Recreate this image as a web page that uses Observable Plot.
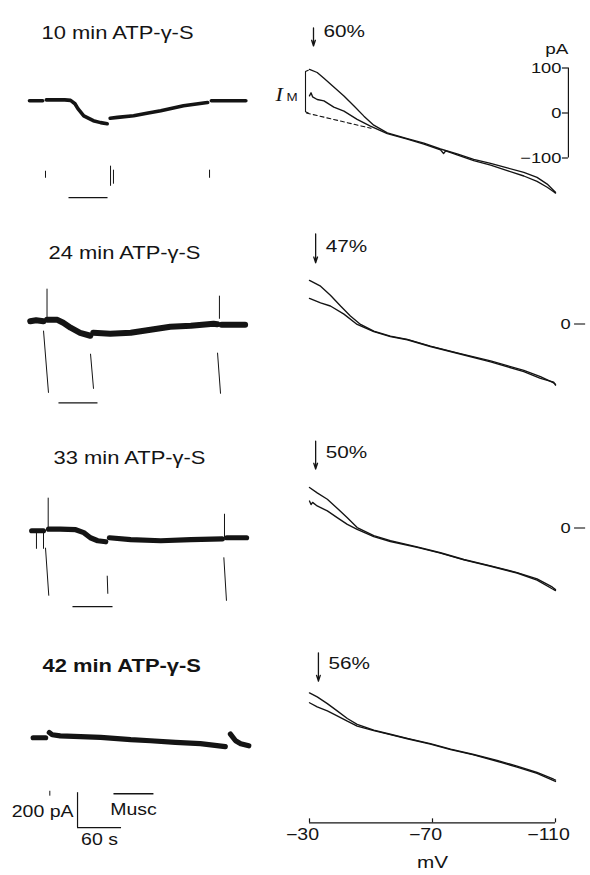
<!DOCTYPE html>
<html><head><meta charset="utf-8">
<script src="https://cdn.jsdelivr.net/npm/d3@7"></script>
<script src="https://cdn.jsdelivr.net/npm/@observablehq/plot@0.6"></script>
<style>
html,body{margin:0;padding:0;background:#fff;}
#fig{position:relative;width:590px;height:875px;overflow:hidden;background:#fff;}
#fig svg{position:absolute;overflow:visible;}
</style></head><body><div id="fig"></div>
<script>
// ================= DATA =================
const titles = ["10 min ATP-γ-S", "24 min ATP-γ-S", "33 min ATP-γ-S", "42 min ATP-γ-S"];
const percents = ["60%", "47%", "50%", "56%"];
const mvTicks = [-30, -70, -110];
const paTicks = [100, 0, -100];
const scaleLabels = ["200 pA", "60 s", "Musc"];
const scaleBarPA = 200, scaleBarS = 60;

// Left: membrane current traces, segments of [time s, current pA]
const trace1 = [
  [[0,0],[18,0]],
  [[23,5],[35,6],[48,5],[56,2],[62,-17],[66,-45],[74,-86],[87,-114],[97,-125],[106,-131]],
  [[110,-100],[120,-95],[142,-86],[160,-72],[179,-57],[210,-29],[240,-11],[243,-10]],
  [[248,0],[295,0]]
];
const trace2 = [
  [[1,3],[9,9],[19,3]],
  [[24,11],[38,11],[46,-6],[56,-34],[69,-63],[83,-80]],
  [[87,-63],[110,-69],[138,-63],[165,-46],[192,-29],[220,-23],[251,-11],[256,-14]],
  [[262,-17],[294,-17]]
];
const trace3 = [
  [[3,0],[19,0]],
  [[26,9],[42,9],[63,6],[74,-11],[83,-40],[93,-57],[104,-63]],
  [[109,-40],[138,-51],[179,-57],[220,-51],[263,-46]],
  [[269,-40],[296,-40]]
];
const trace4 = [
  [[5,0],[22,0]],
  [[27,30],[31,17],[42,11],[97,2],[138,-11],[165,-17],[199,-26],[233,-34],[267,-51]],
  [[274,21],[281,-17],[288,-34],[299,-46]]
];
const traces = [trace1, trace2, trace3, trace4];

// stimulus artefacts [t1, i1, t2, i2]
const artefacts = [
  [[21.8,-400,21.8,-440],[110.5,-371,110.5,-486],[114.5,-394,114.5,-474],[245.5,-394,245.5,-440]],
  [[23.9,189,23.9,17],[19.1,-51,25.9,-406],[83.2,-183,87.3,-383],[259,149,259,17],[256.4,-177,260.5,-411]],
  [[9.5,0,9.5,-103],[19.1,0,19.1,-103],[25.5,189,25.5,11],[21.8,-97,26.3,-371],[106,-257,106.8,-360],[265.9,97,265.9,-40],[265,-152,268.6,-400]],
  [[27.7,-303,27.7,-331]]
];
// muscarine application [t start, t end, level pA]
const musc = [[53.2,106.4,-554],[39.5,92.7,-463],[58.6,113.2,-434],[114.5,169,-320]];
// title anchors [t, pA]
const titleAt = [[16.4,383],[25.9,394],[32.7,417],[17.7,411]];
// scale bar origin [t, pA]
const scaleBarAt = [65.5, -514];

// Right: I-V ramps [mV, pA]; series a (upper at -30) and b
const iv1a = [[-30,97],[-32.5,90],[-34.7,77],[-37.9,58],[-41.2,38],[-44.4,16],[-47.7,-7],[-50.9,-27],[-55.3,-44],[-61.8,-57],[-67.2,-67],[-72.6,-80],[-78,-91],[-83.4,-103],[-88.9,-112],[-94.3,-122],[-99.7,-132],[-104,-143],[-107.3,-158],[-109.4,-172],[-110,-176]];
const iv1b = [[-30,38],[-30.5,45],[-31,36],[-32.5,30],[-34.7,27],[-37.9,13],[-41.2,4],[-45.5,-14],[-49.8,-29],[-55.3,-46],[-61.8,-58],[-67.2,-69],[-72.6,-82],[-73.6,-90],[-74.3,-84],[-78,-93],[-83.4,-106],[-88.9,-116],[-94.3,-128],[-99.7,-140],[-104,-152],[-107.3,-165],[-109.4,-175],[-110,-178]];
const iv2a = [[-30,97],[-33.6,84],[-36.8,64],[-40.1,40],[-43.3,18],[-46.6,-1],[-50.9,-16],[-56.3,-27],[-61.8,-34],[-69.3,-49],[-78,-64],[-88.9,-82],[-99.7,-103],[-105.1,-117],[-109.4,-131],[-110,-134]];
const iv2b = [[-30,57],[-33.6,47],[-36.8,40],[-41.2,22],[-45.5,-1],[-50.9,-17],[-56.3,-28],[-61.8,-35],[-69.3,-50],[-78,-65],[-88.9,-84],[-99.7,-106],[-105.1,-121],[-109.4,-129],[-110,-136]];
const iv3a = [[-30,90],[-32.5,78],[-35.8,64],[-39,44],[-42.3,23],[-45.5,1],[-50.9,-17],[-56.3,-28],[-65,-42],[-72.6,-55],[-80.2,-70],[-88.9,-84],[-97.5,-99],[-104,-113],[-108.9,-131],[-110,-137]];
const iv3b = [[-30,60],[-30.5,52],[-31,57],[-32.5,49],[-35.8,38],[-39,23],[-42.3,8],[-45.5,-3],[-50.9,-19],[-56.3,-30],[-65,-43],[-72.6,-56],[-80.2,-71],[-88.9,-85],[-97.5,-100],[-104,-116],[-108.9,-135],[-110,-139]];
const iv4a = [[-30,107],[-32.5,98],[-35.8,83],[-39,67],[-42.3,50],[-45.5,37],[-50.9,24],[-56.3,15],[-61.8,6],[-69.3,-6],[-75.9,-18],[-83.4,-30],[-91,-43],[-97.5,-56],[-104,-70],[-109.4,-85],[-110,-87]];
const iv4b = [[-30,85],[-32.5,76],[-35.8,67],[-39,56],[-42.3,44],[-45.5,33],[-50.9,23],[-56.3,14],[-61.8,5],[-69.3,-7],[-75.9,-19],[-83.4,-31],[-91,-45],[-97.5,-58],[-104,-72],[-109.4,-88],[-110,-90]];
const ivCurves = [[iv1a, iv1b], [iv2a, iv2b], [iv3a, iv3b], [iv4a, iv4b]];
// leak line (dashed) and I_M bracket in first panel [mV, pA]
const leak = [[-29,0],[-50,-34]];
const imBracket = [[-29.6,95],[-28.7,92],[-28.7,3],[-29.6,0]];
// arrows: mV, top pA, bottom pA, label pA
const arrows = [[-31.3,189,149,180],[-32,200,136,173],[-32,193,131,167],[-32.9,196,133,173]];
const axisLevel = -182;      // pA level of the mV axis line in the last panel
const yAxisAt = -114.2;      // mV position of the pA scale in the first panel

// ================= LAYOUT =================
const fig = document.getElementById("fig");
const font = "Liberation Sans, Arial, Helvetica, sans-serif";
const ink = "#141414";
const STRETCH = 1.22;
const leftZero = [100, 321, 530, 737];
const rightZero = [112, 323, 527, 740];
const traceWidth = [3.6, 6, 5.2, 5.2];

function place(svg, left, top) {
  svg.style.left = left + "px";
  svg.style.top = top + "px";
  svg.querySelectorAll("text").forEach(t => {
    const tr = t.getAttribute("transform") || "";
    t.setAttribute("transform", tr + ` scale(${STRETCH},1)`);
  });
  fig.appendChild(svg);
}
const baseStyle = {background: "transparent", overflow: "visible", fontFamily: font, position: "absolute"};

// ---- left column ----
const LTOP = 550, LBOT = -700, LK = 0.175;
for (let k = 0; k < 4; k++) {
  const pts = traces[k].flatMap((seg, s) => seg.map(([t, i]) => ({s, t, i})));
  const arts = artefacts[k].map(([t1, i1, t2, i2]) => ({t1, i1, t2, i2}));
  const m = musc[k];
  const marks = [
    Plot.line(pts, {x: "t", y: "i", z: "s", stroke: ink, strokeWidth: traceWidth[k], strokeLinejoin: "round"}),
    Plot.link(arts, {x1: "t1", y1: "i1", x2: "t2", y2: "i2", stroke: ink, strokeWidth: 1}),
    Plot.link([m], {x1: d => d[0], x2: d => d[1], y1: d => d[2], y2: d => d[2], stroke: ink, strokeWidth: 1.3}),
    Plot.text([{label: titles[k], t: titleAt[k][0], i: titleAt[k][1]}], {
      x: "t", y: "i", text: "label", textAnchor: "start", lineAnchor: "middle",
      fontSize: 18, fontWeight: k === 3 ? "bold" : "normal", fill: ink})
  ];
  if (k === 3) {
    const sb = [{t: scaleBarAt[0], i: scaleBarAt[1]}];
    marks.push(
      Plot.ruleX(sb, {x: "t", y1: "i", y2: d => d.i + scaleBarPA, stroke: ink, strokeWidth: 1.2}),
      Plot.ruleY(sb, {y: "i", x1: "t", x2: d => d.t + scaleBarS, stroke: ink, strokeWidth: 1.2}),
      Plot.text(sb, {x: "t", y: d => d.i + scaleBarPA / 2, text: () => scaleLabels[0], textAnchor: "end", dx: -4, dy: 2, lineAnchor: "middle", fontSize: 16, fill: ink}),
      Plot.text(sb, {x: d => d.t + scaleBarS / 2, y: "i", text: () => scaleLabels[1], dy: 12, lineAnchor: "middle", fontSize: 16, fill: ink}),
      Plot.text([m], {x: d => (d[0] + d[1]) / 2, y: d => d[2], text: () => scaleLabels[2], dy: 16, lineAnchor: "middle", fontSize: 16, fill: ink})
    );
  }
  const svg = Plot.plot({
    width: 260, height: (LTOP - LBOT) * LK,
    marginLeft: 29, marginRight: 11, marginTop: 0, marginBottom: 0,
    x: {domain: [0, 300], axis: null},
    y: {domain: [LBOT, LTOP], axis: null},
    style: baseStyle,
    marks
  });
  place(svg, 0, leftZero[k] - LTOP * LK);
}

// ---- right column ----
const RK = 0.45, RTOP = 250;
for (let k = 0; k < 4; k++) {
  const last = k === 3;
  const rBot = last ? axisLevel : -250;
  const plotH = (RTOP - rBot) * RK;
  const curves = ivCurves[k].flatMap((ser, s) => ser.map(([v, i]) => ({s, v, i})));
  const a = arrows[k];
  const marks = [
    Plot.line(curves, {x: "v", y: "i", z: "s", stroke: ink, strokeWidth: 1.35, strokeLinejoin: "round"}),
    Plot.arrow([a], {x1: d => d[0], x2: d => d[0], y1: d => d[1], y2: d => d[2], stroke: ink, strokeWidth: 1.3, headLength: 7, headAngle: 36}),
    Plot.text([a], {x: d => d[0], y: d => d[3], text: () => percents[k], dx: 10, textAnchor: "start", lineAnchor: "middle", fontSize: 17, fill: ink})
  ];
  if (k === 0) {
    marks.push(
      Plot.line(leak, {x: d => d[0], y: d => d[1], stroke: ink, strokeWidth: 1.1, strokeDasharray: "4,3"}),
      Plot.line(imBracket, {x: d => d[0], y: d => d[1], stroke: ink, strokeWidth: 1.1}),
      Plot.text([imBracket[1]], {x: d => d[0], y: 27, text: () => "I", dx: -30, textAnchor: "start", lineAnchor: "bottom", fontSize: 18, fontStyle: "italic", fontFamily: "Liberation Serif, Times New Roman, serif", fill: ink}),
      Plot.text([imBracket[1]], {x: d => d[0], y: 27, text: () => "M", dx: -19, textAnchor: "start", lineAnchor: "bottom", fontSize: 11, fill: ink}),
      Plot.ruleX([yAxisAt], {x: d => d, y1: paTicks[2], y2: paTicks[0], stroke: ink, strokeWidth: 1.2}),
      Plot.ruleY(paTicks, {y: d => d, x1: yAxisAt + 1.95, x2: yAxisAt, stroke: ink, strokeWidth: 1.2}),
      Plot.text(paTicks, {x: yAxisAt + 1.95, y: d => d, text: d => (d < 0 ? "−" : "") + Math.abs(d), textAnchor: "end", dx: -1, lineAnchor: "middle", fontSize: 15, fill: ink}),
      Plot.text(["pA"], {x: yAxisAt, y: 142, text: d => d, textAnchor: "end", lineAnchor: "middle", fontSize: 15.5, fill: ink})
    );
  }
  if (k === 1 || k === 2) {
    marks.push(
      Plot.ruleY([0], {y: d => d, x1: yAxisAt - 2, x2: yAxisAt - 5.6, stroke: ink, strokeWidth: 1.1}),
      Plot.text([0], {x: yAxisAt - 0.7, y: d => d, text: d => String(d), textAnchor: "end", lineAnchor: "middle", fontSize: 15, fill: ink})
    );
  }
  if (last) {
    marks.push(
      Plot.ruleY([axisLevel], {y: d => d, x1: mvTicks[0], x2: mvTicks[mvTicks.length - 1], stroke: ink, strokeWidth: 1.2}),
      Plot.ruleX(mvTicks, {x: d => d, y1: axisLevel, y2: axisLevel + 9, stroke: ink, strokeWidth: 1.2}),
      Plot.axisX({ticks: mvTicks, tickSize: 0, tickPadding: 6, dx: -7, tickFormat: d => "−" + Math.abs(d), fontSize: 16, label: null, fill: ink}),
      Plot.text(["mV"], {frameAnchor: "bottom", text: d => d, dy: 40, lineAnchor: "middle", fontSize: 17, fill: ink})
    );
  }
  const svg = Plot.plot({
    width: 330, height: plotH + (last ? 50 : 0),
    marginLeft: 49, marginRight: 35, marginTop: 0, marginBottom: last ? 50 : 0,
    x: {domain: [-30, -110], axis: null},
    y: {domain: [rBot, RTOP], axis: null},
    style: baseStyle,
    marks
  });
  place(svg, 260, rightZero[k] - RTOP * RK);
}
</script></body></html>
